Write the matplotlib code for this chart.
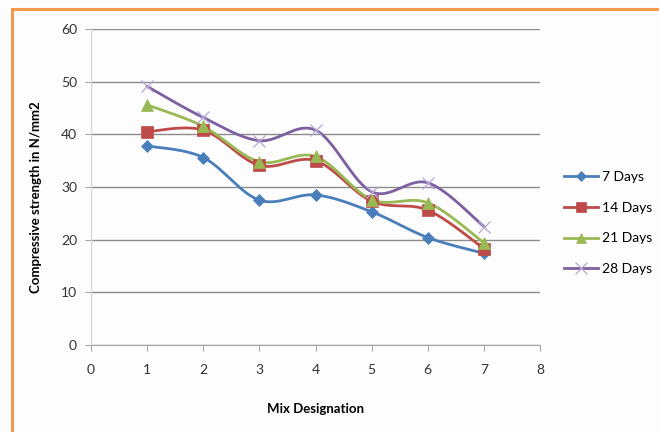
import numpy as np
import matplotlib
matplotlib.use("Agg")
import matplotlib.pyplot as plt
from matplotlib.patches import Rectangle

plt.rcParams["font.family"] = ["Lato", "DejaVu Sans"]

# compressive strength (N/mm2) per mix, at each curing age
mixes = [1, 2, 3, 4, 5, 6, 7]
days_7 = [37.8, 35.6, 27.5, 28.5, 25.3, 20.4, 17.4]
days_14 = [40.5, 40.8, 34.1, 35.0, 27.3, 25.6, 18.3]
days_21 = [45.6, 41.5, 34.8, 35.8, 27.6, 27.0, 19.4]
days_28 = [49.1, 43.2, 38.8, 40.8, 29.1, 30.8, 22.5]
series_names = ["7 Days", "14 Days", "21 Days", "28 Days"]


def smooth(x, y, n=30):
    # Catmull-Rom style curve through the points (like Excel's smoothed line)
    x = np.asarray(x, float)
    y = np.asarray(y, float)
    px = np.concatenate([[x[0]], x, [x[-1]]])
    py = np.concatenate([[y[0]], y, [y[-1]]])
    xs, ys = [], []
    for i in range(1, len(px) - 2):
        p0, p1, p2, p3 = (np.array([px[j], py[j]]) for j in (i - 1, i, i + 1, i + 2))
        c1 = p1 + (p2 - p0) / 6.0
        c2 = p2 - (p3 - p1) / 6.0
        t = np.linspace(0, 1, n)[:, None]
        b = ((1 - t) ** 3) * p1 + 3 * ((1 - t) ** 2) * t * c1 + 3 * (1 - t) * t ** 2 * c2 + t ** 3 * p2
        xs.append(b[:, 0])
        ys.append(b[:, 1])
    return np.concatenate(xs), np.concatenate(ys)


fig = plt.figure(figsize=(6.59, 4.32), dpi=100, facecolor="#fdfdfd")
W, H = 659, 432
ax = fig.add_axes([91 / W, 1 - 345 / H, (540 - 91) / W, (345 - 29) / H])
ax.set_facecolor("#fdfdfd")

# orange frame, only top and left edges fall inside the image
fig.patches.append(Rectangle((12 / W, -0.1), 1.2, 1 - 9 / H + 0.1,
                             transform=fig.transFigure, fill=False,
                             edgecolor="#f59a4d", linewidth=2.2))

colors = ["#4a7ebb", "#be4b48", "#98b954", "#7d60a0"]
markers = ["D", "s", "^", "x"]
msizes = [6, 8, 8, 9]
for vals, name, c, m, ms in zip([days_7, days_14, days_21, days_28], series_names,
                                colors, markers, msizes):
    sx, sy = smooth(mixes, vals)
    ax.plot(sx, sy, color=c, linewidth=2.0, zorder=3)
    mc = "#b5a6d6" if m == "x" else c
    ax.plot(mixes, vals, linestyle="none", marker=m, color=mc, markersize=ms,
            markeredgewidth=0.9 if m == "x" else 0.5, zorder=4)
    ax.plot([], [], color=c, linewidth=2.0, marker=m, markersize=ms - 1,
            markeredgecolor=mc, markeredgewidth=0.9 if m == "x" else 0.5, label=name)

ax.set_xlim(0, 8)
ax.set_ylim(0, 60)
ax.set_xticks(range(0, 9))
ax.set_yticks(range(0, 61, 10))
ax.yaxis.grid(True, color="#8c8c8c", linewidth=1.0)
ax.set_axisbelow(True)
for s in ["top", "right"]:
    ax.spines[s].set_visible(False)
ax.spines["left"].set_color("#d4d4d4")
ax.spines["bottom"].set_color("#a6a6a6")
ax.tick_params(axis="both", colors="#a6a6a6", labelcolor="#333333", labelsize=10,
               length=4, direction="out")
ax.tick_params(axis="x", pad=10)
ax.tick_params(axis="y", pad=6)

ax.set_xlabel("Mix Designation", fontsize=9.5, fontweight="bold", labelpad=19)
ax.set_ylabel("Compressive strength in N/mm2", fontsize=9.5, fontweight="bold")
ax.yaxis.set_label_coords((42 - 91) / (540 - 91), (345 - 197) / (345 - 29))

leg = ax.legend(loc="center left", bbox_to_anchor=(551 / W, 1 - 223 / H),
                bbox_transform=fig.transFigure, frameon=False, fontsize=10,
                handlelength=2.5, labelspacing=1.35, handletextpad=0.3)

fig.savefig("out.png", dpi=100, facecolor=fig.get_facecolor())
